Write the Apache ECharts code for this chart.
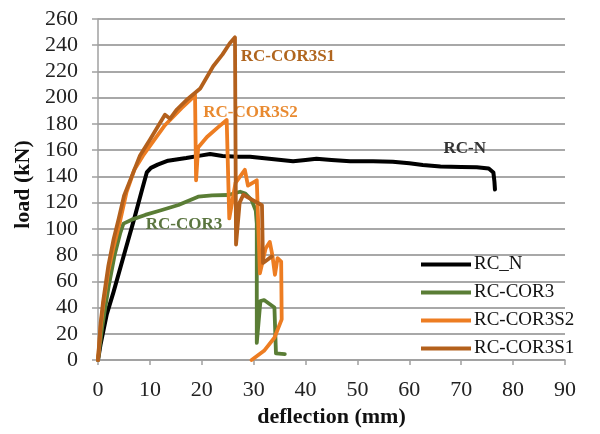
<!DOCTYPE html>
<html>
<head>
<meta charset="utf-8">
<script src="https://cdn.jsdelivr.net/npm/echarts@6/dist/echarts.min.js"></script>
<style>
  html, body { margin: 0; padding: 0; background: #ffffff; }
  #chart { width: 600px; height: 434px; }
</style>
</head>
<body>
<div id="chart"></div>
<script>
// Load–deflection curves of the four beam specimens, [deflection mm, load kN]
const seriesNames = ['RC_N', 'RC-COR3', 'RC-COR3S2', 'RC-COR3S1'];

const rcN = [
  [0, 0], [0.5, 12], [1.7, 35], [3, 52], [5, 80], [7, 108], [8.5, 130], [9.4, 143],
  [10.2, 146.5], [11.5, 149], [13.5, 152], [17, 154], [20, 156], [21.6, 157], [24, 155.5], [27, 155],
  [29.3, 155], [33, 153.5], [37.6, 151.5], [40, 152.5], [42.1, 153.5], [45, 152.5],
  [48.6, 151.5], [53, 151.5], [56.8, 151.2], [60, 150], [62.6, 148.7], [66, 147.5],
  [70, 147.2], [73, 147], [75.3, 146], [76.2, 143], [76.4, 136], [76.5, 130]
];

const rcCor3 = [
  [0, 0], [0.8, 25], [2, 55], [3.2, 80], [4.3, 97], [4.9, 104], [6.5, 107], [9.1, 110.6],
  [12, 114], [15.5, 118.2], [19.3, 124.5], [22, 125.5], [25.1, 125.8], [27.4, 128.3],
  [28.4, 127], [29.6, 122], [30.4, 114], [30.6, 104], [30.6, 13], [31.3, 45], [32, 45.7],
  [34, 40], [34.3, 5], [36, 4.5]
];

const rcCor3S2 = [
  [0, 0], [0.5, 25], [1, 42], [2, 68], [3, 86], [4.2, 105], [5.5, 128], [7, 145],
  [8.7, 156], [10.5, 166], [12.9, 179], [16.1, 192], [17.7, 198], [18.7, 202],
  [18.9, 137], [19.3, 162], [21, 170], [23, 177], [24.8, 183], [25.3, 108], [26.5, 135],
  [28.3, 145], [28.9, 133], [30.6, 137], [31.2, 66], [32.3, 85], [33.1, 90], [33.6, 80],
  [34.1, 65], [34.6, 77.6], [35.3, 75], [35.4, 31], [34, 17], [32, 7], [29.6, 0]
];

const rcCor3S1 = [
  [0, 0], [0.5, 28], [1, 45], [2, 72], [3, 92], [4, 108], [5, 125], [6.5, 140],
  [8.1, 156], [10, 168], [12, 181], [12.9, 187], [13.9, 184], [15.2, 191], [17, 198],
  [19.7, 207], [22.2, 224], [24, 233], [25.4, 241.5], [26.4, 246], [26.6, 88],
  [27.3, 120], [28, 126], [30, 121.5], [31.6, 118], [31.8, 74], [33.5, 79]
];

const seriesData = [rcN, rcCor3, rcCor3S2, rcCor3S1];
const seriesColors = ['#000000', '#5a7d35', '#ed7d22', '#b3601c'];
const seriesWidths = [4, 3.8, 3.8, 3.8];

// Curve annotations placed in data space: [deflection, load]
const curveTags = [
  { text: 'RC-N', at: [66.5, 161.5], color: '#333333' },
  { text: 'RC-COR3', at: [9.1, 103], color: '#5b7540' },
  { text: 'RC-COR3S2', at: [20.2, 189], color: '#e98a30' },
  { text: 'RC-COR3S1', at: [27.4, 231], color: '#b0651e' }
];

// Axis ranges and tick steps
const xRange = [0, 90], xStep = 10;
const yRange = [0, 260], yStep = 20;

const serif = '"Liberation Serif", "Times New Roman", serif';

const chart = echarts.init(document.getElementById('chart'), null, { renderer: 'canvas' });

const series = seriesNames.map((name, i) => {
  const tag = curveTags[i];
  return {
    name: name,
    type: 'line',
    data: seriesData[i],
    showSymbol: false,
    symbol: 'none',
    smooth: false,
    lineStyle: { color: seriesColors[i], width: seriesWidths[i], join: 'round', cap: 'round' },
    itemStyle: { color: seriesColors[i] },
    z: 2 + i,
    markPoint: {
      silent: true,
      symbol: 'circle',
      symbolSize: 1,
      itemStyle: { color: 'rgba(0,0,0,0)' },
      data: [{
        coord: tag.at,
        label: {
          show: true,
          position: 'right',
          distance: 0,
          formatter: tag.text,
          color: tag.color,
          fontFamily: serif,
          fontWeight: 'bold',
          fontSize: 17
        }
      }]
    }
  };
});

chart.setOption({
  animation: false,
  backgroundColor: '#ffffff',
  grid: { left: 98, right: 35, top: 19, bottom: 74, containLabel: false },
  legend: {
    orient: 'vertical',
    left: 416,
    top: 250,
    icon: 'rect',
    itemWidth: 50,
    itemHeight: 4,
    itemGap: 9,
    data: seriesNames,
    textStyle: { fontFamily: serif, fontSize: 19, lineHeight: 19, color: '#111111', padding: [0, 0, 0, -2] }
  },
  xAxis: {
    type: 'value',
    min: xRange[0],
    max: xRange[1],
    interval: xStep,
    name: 'deflection (mm)',
    nameLocation: 'middle',
    nameGap: 32,
    nameTextStyle: { fontFamily: serif, fontWeight: 'bold', fontSize: 22, color: '#111111' },
    axisLine: { show: true, onZero: false, lineStyle: { color: '#a0a0a0', width: 1.5 } },
    axisTick: { show: true, inside: false, length: 5, lineStyle: { color: '#a0a0a0', width: 1.5 } },
    axisLabel: { margin: 19, fontFamily: serif, fontSize: 22, color: '#222222' },
    splitLine: { show: false }
  },
  yAxis: {
    type: 'value',
    min: yRange[0],
    max: yRange[1],
    interval: yStep,
    name: 'load (kN)',
    nameLocation: 'middle',
    nameGap: 63,
    nameTextStyle: { fontFamily: serif, fontWeight: 'bold', fontSize: 22, color: '#111111', padding: [0, 0, 0, 10] },
    axisLine: { show: true, lineStyle: { color: '#a0a0a0', width: 1.5 } },
    axisTick: { show: true, inside: false, length: 6, lineStyle: { color: '#a0a0a0', width: 1.5 } },
    axisLabel: { margin: 20, fontFamily: serif, fontSize: 22, color: '#222222' },
    splitLine: { show: true, lineStyle: { color: '#a8a8a8', width: 1.8 } }
  },
  series: series
});
</script>
</body>
</html>
